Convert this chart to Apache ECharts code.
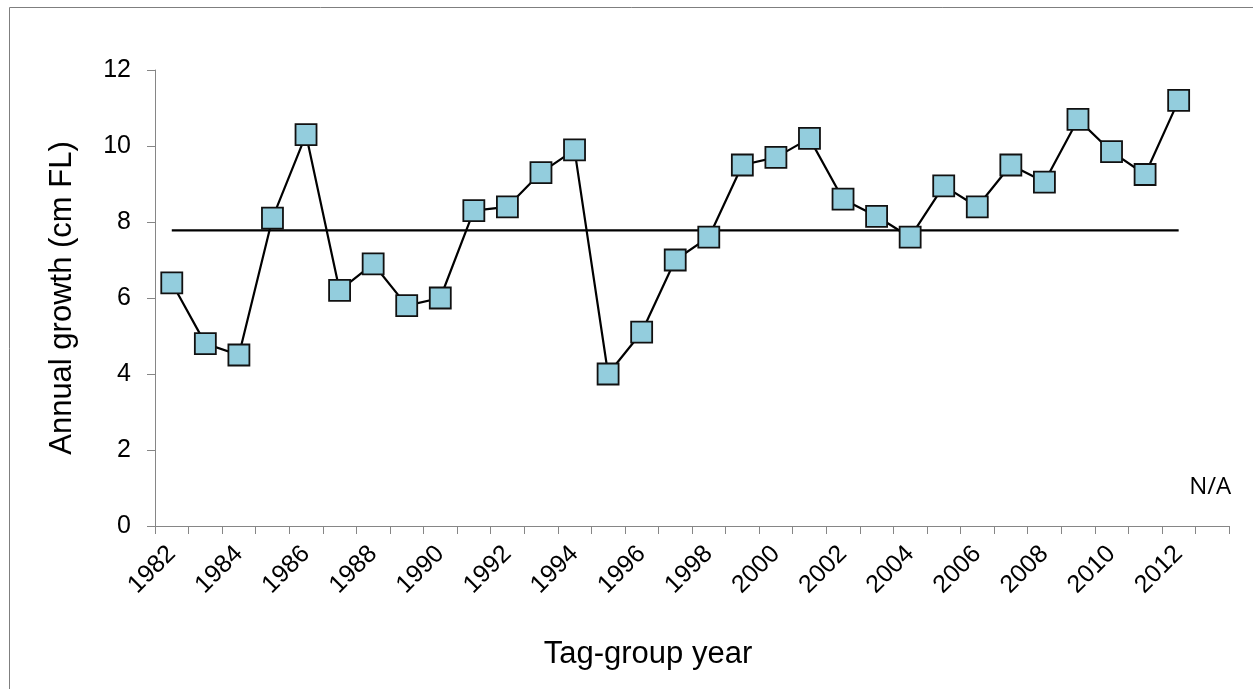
<!DOCTYPE html>
<html>
<head>
<meta charset="utf-8">
<script src="https://cdn.jsdelivr.net/npm/echarts@6/dist/echarts.min.js"></script>
<style>
html,body{margin:0;padding:0;background:#fff;}
#chart{width:1253px;height:689px;}
</style>
</head>
<body>
<div id="chart"></div>
<script>
var years = ['1982','1983','1984','1985','1986','1987','1988','1989','1990','1991','1992','1993','1994','1995','1996','1997','1998','1999','2000','2001','2002','2003','2004','2005','2006','2007','2008','2009','2010','2011','2012','2013'];
var growth = [6.4,4.8,4.5,8.1,10.3,6.2,6.9,5.8,6.0,8.3,8.4,9.3,9.9,4.0,5.1,7.0,7.6,9.5,9.7,10.2,8.6,8.15,7.6,8.95,8.4,9.5,9.05,10.7,9.85,9.25,11.2,null];
var meanValue = 7.78;
var meanLine = years.map(function(y, i){ return growth[i] === null ? null : meanValue; });
var naYear = '2013';
var naLabel = 'N/A';

var chart = echarts.init(document.getElementById('chart'));
var axisColor = '#868686';
var font = 'Liberation Sans, Arial, sans-serif';
chart.setOption({
  animation: false,
  backgroundColor: '#fff',
  graphic: [{
    type: 'rect', left: 7, top: 5, z: -1,
    shape: {width: 1260, height: 700},
    style: {fill: 'none', stroke: '#7f7f7f', lineWidth: 1}
  }],
  grid: {left: 155, right: 24, top: 70, bottom: 163},
  xAxis: {
    type: 'category',
    data: years,
    boundaryGap: true,
    name: 'Tag-group year',
    nameLocation: 'middle',
    nameGap: 113,
    nameTextStyle: {fontSize: 31, color: '#000', fontFamily: font, padding: [0, 88, 0, 0]},
    axisLine: {lineStyle: {color: axisColor, width: 1}},
    axisTick: {show: true, interval: 0, length: 8, lineStyle: {color: axisColor}},
    axisLabel: {interval: 1, rotate: 45, fontSize: 25, color: '#000', fontFamily: font, margin: 24},
    splitLine: {show: false}
  },
  yAxis: {
    type: 'value',
    min: 0, max: 12, interval: 2,
    name: 'Annual growth (cm FL)',
    nameLocation: 'middle',
    nameGap: 77,
    nameTextStyle: {fontSize: 31, color: '#000', fontFamily: font},
    axisLine: {show: true, lineStyle: {color: axisColor, width: 1}},
    axisTick: {show: true, length: 8, lineStyle: {color: axisColor}},
    axisLabel: {fontSize: 25, color: '#000', fontFamily: font, margin: 24},
    splitLine: {show: false}
  },
  series: [{
    type: 'line',
    data: meanLine,
    symbol: 'none',
    lineStyle: {color: '#000', width: 2.2},
    z: 1,
    markPoint: {
      symbol: 'circle', symbolSize: 0,
      data: [{coord: [naYear, 1.03], value: naLabel}],
      label: {show: true, formatter: naLabel, fontSize: 24, color: '#000', fontFamily: 'Open Sans, sans-serif', position: 'inside', offset: [-2, 0]}
    }
  }, {
    type: 'line',
    data: growth,
    symbol: 'rect',
    symbolSize: 21,
    lineStyle: {color: '#000', width: 2.2},
    itemStyle: {color: '#93CDDD', borderColor: '#111', borderWidth: 1.8},
    z: 3
  }]
});
</script>
</body>
</html>
